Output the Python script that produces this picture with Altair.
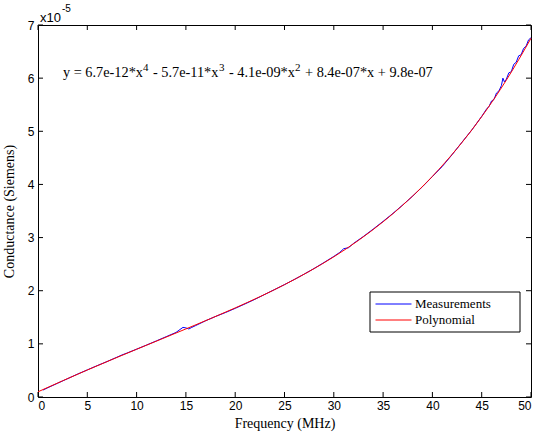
import altair as alt
import pandas as pd

# ---- data (conductance in units of 1e-5 S) ----
meas_x = [0.5, 1, 2, 3, 4, 5, 6, 7, 8, 8.5, 9, 10, 11, 12, 13, 14, 14.4, 14.7, 15.0, 15.3,
          15.6, 16, 17, 18, 19, 20, 21, 22, 23, 24, 25, 26, 27, 28, 29, 30, 30.6, 31, 31.5,
          32, 33, 34, 35, 36, 37, 38, 39, 40, 41, 42, 43, 44, 45, 45.25, 45.5, 45.75, 46,
          46.25, 46.5, 46.75, 47, 47.15, 47.3, 47.5, 47.75, 48, 48.25, 48.5, 48.75, 49,
          49.25, 49.5, 49.75, 50]
meas_y = [0.13, 0.175, 0.26, 0.345, 0.43, 0.51, 0.59, 0.667, 0.748, 0.79, 0.825, 0.9,
          0.977, 1.055, 1.135, 1.215, 1.27, 1.31, 1.30, 1.28, 1.31, 1.345, 1.435, 1.515,
          1.588, 1.668, 1.752, 1.838, 1.93, 2.022, 2.115, 2.212, 2.313, 2.418, 2.53, 2.645,
          2.72, 2.79, 2.81, 2.89, 3.02, 3.16, 3.305, 3.455, 3.615, 3.78, 3.958, 4.148,
          4.338, 4.56, 4.795, 5.025, 5.28, 5.35, 5.42, 5.47, 5.57, 5.60, 5.72, 5.76, 5.86,
          6.00, 5.93, 5.98, 6.10, 6.12, 6.26, 6.30, 6.42, 6.44, 6.56, 6.60, 6.72, 6.76]

poly_x = [0, 2.5, 5, 7.5, 10, 12.5, 15, 17.5, 20, 22.5, 25, 27.5, 30, 32.5, 35, 37.5,
          40, 42.5, 45, 47.5, 50]
poly_y = [0.098, 0.305, 0.508, 0.705, 0.898, 1.089, 1.281, 1.475, 1.676, 1.887, 2.114,
          2.363, 2.638, 2.947, 3.297, 3.696, 4.152, 4.676, 5.276, 5.963, 6.75]

series_names = ["Measurements", "Polynomial"]
series_colors = ["#0000ff", "#ff0000"]
x_ticks = [0, 5, 10, 15, 20, 25, 30, 35, 40, 45, 50]
y_ticks = [0, 1, 2, 3, 4, 5, 6, 7]

meas_df = pd.DataFrame({"x": meas_x, "y": meas_y, "series": series_names[0]})
poly_df = pd.DataFrame({"x": poly_x, "y": poly_y, "series": series_names[1]})
xt_df = pd.DataFrame({"x": x_ticks})
yt_df = pd.DataFrame({"y": y_ticks})

SANS = "Liberation Sans"
SERIF = "Liberation Serif"
W, H = 493, 372
TICK = 5
LEG_X, LEG_Y = 332, 267

color = alt.Color(
    "series:N",
    scale=alt.Scale(domain=series_names, range=series_colors),
    legend=alt.Legend(
        orient="none", legendX=LEG_X, legendY=LEG_Y, title=None,
        symbolType="stroke", symbolSize=1296, symbolStrokeWidth=1,
        clipHeight=14, rowPadding=2, padding=5, labelOffset=3,
        labelFont=SERIF, labelFontSize=13, labelColor="black",
    ),
)

xscale = alt.Scale(domain=[0, 50], nice=False, zero=False)
yscale = alt.Scale(domain=[0, 7], nice=False, zero=False)

x_axis = alt.Axis(
    orient="bottom", values=x_ticks, ticks=False, tickSize=0, domain=False, grid=False,
    labelFont=SANS, labelFontSize=12, labelPadding=3, labelColor="black",
    title="Frequency (MHz)", titleFont=SERIF, titleFontSize=14,
    titleFontWeight="normal", titleColor="black", titlePadding=5)
y_axis = alt.Axis(
    orient="left", values=y_ticks, ticks=False, tickSize=0, domain=False, grid=False,
    labelFont=SANS, labelFontSize=12, labelPadding=4, labelColor="black", format="d",
    title="Conductance (Siemens)", titleFont=SERIF, titleFontSize=14,
    titleFontWeight="normal", titleColor="black", titlePadding=11)

meas = alt.Chart(meas_df).mark_line(strokeWidth=1).encode(
    x=alt.X("x:Q", scale=xscale, axis=x_axis),
    y=alt.Y("y:Q", scale=yscale, axis=y_axis),
    color=color,
)

poly = alt.Chart(poly_df).mark_line(strokeWidth=1, interpolate="monotone").encode(
    x=alt.X("x:Q", scale=xscale, axis=x_axis),
    y=alt.Y("y:Q", scale=yscale, axis=y_axis),
    color=color,
)

# inward tick marks on all four sides (MATLAB style)
tick_bottom = alt.Chart(xt_df).mark_rule(color="black", strokeWidth=1).encode(
    x=alt.X("x:Q", scale=xscale, axis=x_axis), y=alt.value(H), y2=alt.value(H - TICK))
tick_top = alt.Chart(xt_df).mark_rule(color="black", strokeWidth=1).encode(
    x=alt.X("x:Q", scale=xscale, axis=x_axis), y=alt.value(0), y2=alt.value(TICK))
tick_left = alt.Chart(yt_df).mark_rule(color="black", strokeWidth=1).encode(
    y=alt.Y("y:Q", scale=yscale, axis=y_axis), x=alt.value(0), x2=alt.value(TICK))
tick_right = alt.Chart(yt_df).mark_rule(color="black", strokeWidth=1).encode(
    y=alt.Y("y:Q", scale=yscale, axis=y_axis), x=alt.value(W), x2=alt.value(W - TICK))

# legend frame (wider than the entries, as in the reference)
legend_box = alt.Chart(pd.DataFrame({"k": [0]})).mark_rect(
    fill="white", stroke="black", strokeWidth=1
).encode(x=alt.value(LEG_X), x2=alt.value(LEG_X + 150),
         y=alt.value(LEG_Y), y2=alt.value(LEG_Y + 40))


def label(text, px, py, size, font=SERIF):
    return alt.Chart(pd.DataFrame({"t": [text]})).mark_text(
        align="left", baseline="alphabetic", font=font, fontSize=size, color="black"
    ).encode(x=alt.value(px), y=alt.value(py), text="t:N")


eq_base = 52
eq_sup = 46
EQ = 14.3
SUP = 11
annotations = [
    label("x10", 2, -3, 13, SANS),
    label("-5", 24, -13, 10, SANS),
    label("y = 6.7e-12*x", 25, eq_base, EQ),
    label("4", 105, eq_sup, SUP),
    label("- 5.7e-11*x", 115, eq_base, EQ),
    label("3", 181, eq_sup, SUP),
    label("- 4.1e-09*x", 191, eq_base, EQ),
    label("2", 257, eq_sup, SUP),
    label("+ 8.4e-07*x + 9.8e-07", 267, eq_base, EQ),
]

chart = alt.layer(
    meas, poly, tick_bottom, tick_top, tick_left, tick_right, legend_box, *annotations
).properties(
    width=W, height=H,
    autosize=alt.AutoSizeParams(type="none"),
    padding={"left": 38, "top": 25, "right": 6, "bottom": 39},
    background="white",
).configure_view(stroke="black", strokeWidth=1)

chart.save("out.html", embed_options={"renderer": "svg", "actions": False})
